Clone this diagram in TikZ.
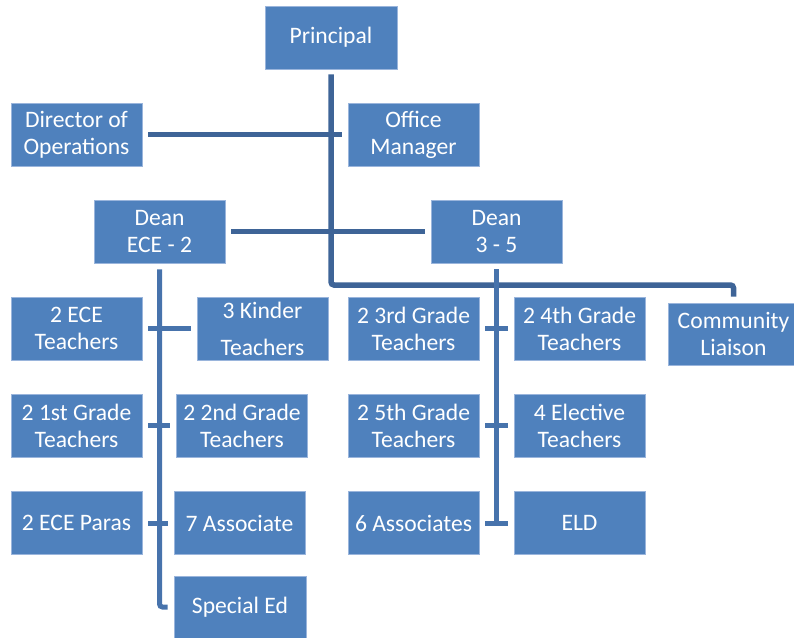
\documentclass[tikz,border=0pt]{standalone}
\usepackage{fontspec}
\setmainfont{Carlito}
\definecolor{boxfill}{HTML}{4F81BD}
\definecolor{boxedge}{HTML}{9AB5DC}
\definecolor{pcol}{HTML}{3E6497}
\definecolor{dcol}{HTML}{4773AC}
\tikzset{
  orgbox/.style={draw=boxedge, line width=0.8pt, fill=boxfill, text=white,
    minimum width=131pt, minimum height=63pt, inner sep=0pt, align=center,
    font=\fontsize{23.6}{27}\selectfont},
  pline/.style={draw=pcol, line width=5.5pt, rounded corners=3pt},
  dline/.style={draw=dcol, line width=5pt, rounded corners=3pt}
}
\begin{document}
\begin{tikzpicture}[x=1pt,y=-1pt]
\useasboundingbox (0,0) rectangle (794,637);
\clip (0,0) rectangle (794,637);
% boxes
\node[orgbox, minimum width=132pt] (prin) at (331,37.5) {Principal};
\node[orgbox] (dir) at (76.5,134.5) {Director of\\Operations};
\node[orgbox] (off) at (413.5,134.5) {Office\\Manager};
\node[orgbox] (deanl) at (159.5,231.5) {Dean\\ECE - 2};
\node[orgbox] (deanr) at (496.5,231.5) {Dean\\3 - 5};
\node[orgbox] (ece) at (76.5,328.5) {2 ECE\\Teachers};
\node[orgbox] (kind) at (262.5,328.5) {3 Kinder\\[10pt]Teachers};
\node[orgbox] (third) at (413.5,328.5) {2 3rd Grade\\Teachers};
\node[orgbox] (fourth) at (579.5,328.5) {2 4th Grade\\Teachers};
\node[orgbox, minimum height=62pt] (comm) at (733.5,334) {Community\\Liaison};
\node[orgbox] (first) at (76.5,425.5) {2 1st Grade\\Teachers};
\node[orgbox] (second) at (242,425.5) {2 2nd Grade\\Teachers};
\node[orgbox] (fifth) at (413.5,425.5) {2 5th Grade\\Teachers};
\node[orgbox] (elect) at (579.5,425.5) {4 Elective\\Teachers};
\node[orgbox] (paras) at (76.5,523) {2 ECE Paras};
\node[orgbox] (assoc) at (239.5,523) {7 Associate};
\node[orgbox] (assocs) at (413.5,523) {6 Associates};
\node[orgbox] (eld) at (579.5,523) {ELD};
\node[orgbox, minimum width=132pt, minimum height=62pt] (sped) at (240,607) {Special Ed};
% principal connectors
\coordinate (pbend) at (331,285);
\draw[pline] ([yshift=-5pt]prin.south) -- (pbend) -- (pbend -| comm.north) -- ([yshift=6pt]comm.north);
\draw[pline, rounded corners=0pt] ([xshift=6pt]dir.east) -- ([xshift=-6pt]off.west);
\draw[pline, rounded corners=0pt] ([xshift=6pt]deanl.east) -- ([xshift=-6pt]deanr.west);
% dean ECE-2 branch
\draw[dline] ([yshift=-6pt]deanl.south) -- (deanl.south |- sped.west) -- ([xshift=-6pt]sped.west);
\draw[dline] ([xshift=6pt]ece.east) -- ([xshift=-6pt]kind.west);
\draw[dline] ([xshift=6pt]first.east) -- ([xshift=-6pt]second.west);
\draw[dline] ([xshift=6pt]paras.east) -- ([xshift=-6pt]assoc.west);
% dean 3-5 branch
\draw[dline] ([yshift=-6pt]deanr.south) -- (deanr.south |- assocs.east);
\draw[dline] ([xshift=6pt]third.east) -- ([xshift=-6pt]fourth.west);
\draw[dline] ([xshift=6pt]fifth.east) -- ([xshift=-6pt]elect.west);
\draw[dline] ([xshift=6pt]assocs.east) -- ([xshift=-6pt]eld.west);
\end{tikzpicture}
\end{document}
